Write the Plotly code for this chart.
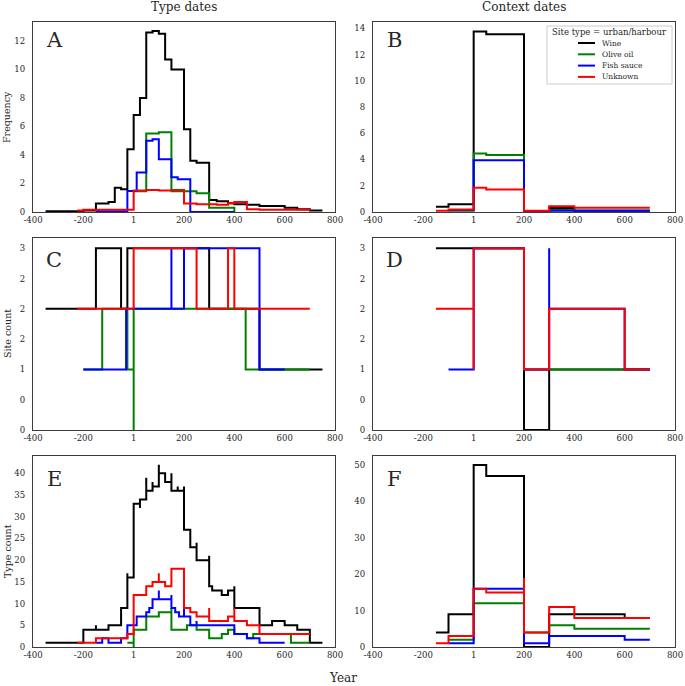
import plotly.graph_objects as go
from plotly.subplots import make_subplots

W, H = 685, 686

# ---------------- data (step functions: x breakpoints, values) ----------------
SERIES = ["Wine", "Olive oil", "Fish sauce", "Unknown"]
COLORS = ["black", "green", "blue", "red"]

# Panel A: Type dates, frequency
A_wine_x = [-350, -200, -150, -100, -75, -50, -25, 0, 25, 50, 75, 100, 125, 150, 200, 225, 250, 300, 330, 375, 400, 450, 500, 600, 650, 700, 750]
A_wine_y = [0.05, 0.1, 0.6, 0.7, 1.7, 1.6, 4.4, 6.8, 8.0, 12.6, 12.7, 12.5, 10.7, 10.0, 5.8, 3.6, 3.45, 0.85, 0.75, 0.62, 0.55, 0.5, 0.42, 0.3, 0.2, 0.1, 0.1]
A_olive_x = [0, 50, 100, 150, 250, 300, 400]
A_olive_y = [1.45, 5.5, 5.6, 1.45, 1.32, 0.3, 0.0]
A_fish_x = [-150, -25, 12, 50, 75, 100, 150, 175, 225, 400]
A_fish_y = [0.05, 1.47, 2.78, 5.0, 5.1, 3.7, 2.43, 2.3, 0.0, 0.0]
A_unk_x = [-225, -200, 0, 50, 100, 150, 200, 250, 330, 375, 400, 450, 500, 700]
A_unk_y = [0.1, 0.15, 1.5, 1.55, 1.5, 1.55, 0.6, 0.55, 0.5, 0.62, 0.7, 0.2, 0.15, 0.1]

# Panel B: Context dates, frequency
B_wine_x = [-150, -100, 0, 50, 200, 300, 400, 700]
B_wine_y = [0.4, 0.6, 13.75, 13.55, 0.0, 0.3, 0.1, 0.1]
B_olive_x = [-100, 0, 50, 200, 300, 400, 700]
B_olive_y = [0.1, 4.45, 4.35, 0.05, 0.15, 0.1, 0.1]
B_fish_x = [-100, 0, 200, 300, 700]
B_fish_y = [0.15, 3.95, 0.05, 0.1, 0.1]
B_unk_x = [-150, -100, 0, 50, 200, 300, 400, 700]
B_unk_y = [0.1, 0.2, 1.85, 1.72, 0.1, 0.43, 0.33, 0.33]

# Panel C: Type dates, site count
C_wine_x = [-350, -150, -50, -25, 300, 500, 750]
C_wine_y = [2, 3, 2, 3, 2, 1, 1]
C_olive_x = [-200, -125, -25, 0, 0, 445, 700]
C_olive_y = [1, 2, 1, 0, 2, 1, 1]
C_fish_x = [-200, -30, 150, 150, 200, 500, 600]
C_fish_y = [1, 2, 3, 2, 3, 1, 1]
C_unk_x = [-225, 0, 250, 375, 400, 700]
C_unk_y = [2, 3, 2, 3, 2, 2]

# Panel D: Context dates, site count
D_wine_x = [-150, 200, 300, 700]
D_wine_y = [3, 0, 1, 1]
D_olive_x = [0, 200, 700]
D_olive_y = [3, 1, 1]
D_fish_x = [-100, 0, 200, 300, 300, 600, 700]
D_fish_y = [1, 3, 1, 3, 2, 1, 1]
D_unk_x = [-150, 0, 0, 200, 300, 600, 700]
D_unk_y = [2, 1, 3, 1, 2, 1, 1]

# Panel E: Type dates, type count
E_wine_x = [-350, -200, -150, -150, -100, -50, -25, -25, 0, 25, 25, 50, 50, 75, 75, 100, 100, 125, 150, 150,
            175, 175, 200, 200, 225, 225, 250, 250, 300, 300, 312, 350, 375, 400, 400, 500, 550, 600, 650, 700, 750]
E_wine_y = [1, 4, 5, 4, 5, 9, 17, 16, 33, 32, 34, 39, 36, 38, 37, 42, 40, 38, 40, 36,
            37, 36, 37, 27, 24, 23, 24, 20, 21, 14, 13, 12, 13, 14, 9, 5, 6, 5, 4, 1, 1]
E_olive_x = [-25, 0, 0, 50, 100, 150, 150, 212, 250, 300, 350, 375, 400, 450, 475, 625, 700]
E_olive_y = [1, 0, 4, 7, 8, 9, 4, 5, 4, 2, 3, 4, 3, 2, 3, 1, 1]
E_fish_x = [-150, -125, -100, -50, -25, 12, 50, 62, 75, 100, 100, 150, 150, 165, 180, 200, 200, 225, 250, 250, 400, 450, 500, 600]
E_fish_y = [1, 2, 1, 2, 5, 7, 8, 9, 11, 13, 11, 12, 9, 8, 7, 9, 7, 5, 6, 5, 3, 2, 1, 1]
E_unk_x = [-225, -150, -25, 0, 50, 75, 100, 100, 125, 150, 200, 225, 250, 300, 300, 375, 400, 400, 450, 500, 700]
E_unk_y = [1, 2, 3, 12, 14, 15, 17, 15, 14, 18, 9, 8, 7, 9, 6, 7, 9, 6, 5, 3, 3]

# Panel F: Context dates, type count
F_wine_x = [-150, -100, 0, 50, 200, 300, 600, 700]
F_wine_y = [4, 9, 50, 47, 0, 9, 8, 8]
F_olive_x = [-100, 0, 200, 300, 400, 700]
F_olive_y = [2, 12, 4, 6, 5, 5]
F_fish_x = [-100, 0, 200, 200, 300, 600, 700]
F_fish_y = [1, 16, 4, 1, 3, 2, 2]
F_unk_x = [-150, -100, 0, 50, 200, 200, 300, 400, 700]
F_unk_y = [1, 3, 16, 15, 19, 4, 11, 8, 8]

X_TICKS = [-400, -200, 0, 200, 400, 600, 800]
X_TICKTEXT = ["-400", "-200", "1", "200", "400", "600", "800"]
SITE_TICKS = [0, 0.5, 1, 1.5, 2, 2.5, 3]
SITE_TICKTEXT = ["0", "0", "1", "2", "2", "2", "3"]

PANELS = {
    "A": (1, 1, [(A_wine_x, A_wine_y), (A_olive_x, A_olive_y), (A_fish_x, A_fish_y), (A_unk_x, A_unk_y)], [0, 13.33]),
    "B": (1, 2, [(B_wine_x, B_wine_y), (B_olive_x, B_olive_y), (B_fish_x, B_fish_y), (B_unk_x, B_unk_y)], [0, 14.48]),
    "C": (2, 1, [(C_wine_x, C_wine_y), (C_olive_x, C_olive_y), (C_fish_x, C_fish_y), (C_unk_x, C_unk_y)], [0, 3.17]),
    "D": (2, 2, [(D_wine_x, D_wine_y), (D_olive_x, D_olive_y), (D_fish_x, D_fish_y), (D_unk_x, D_unk_y)], [0, 3.17]),
    "E": (3, 1, [(E_wine_x, E_wine_y), (E_olive_x, E_olive_y), (E_fish_x, E_fish_y), (E_unk_x, E_unk_y)], [0, 44.0]),
    "F": (3, 2, [(F_wine_x, F_wine_y), (F_olive_x, F_olive_y), (F_fish_x, F_fish_y), (F_unk_x, F_unk_y)], [0, 52.5]),
}

# ---------------- layout geometry (pixels) ----------------
COL_PX = {1: (33, 335), 2: (373, 675)}
ROW_PX = {1: (22, 212), 2: (238, 430), 3: (456, 647)}
FONT = "DejaVu Serif"
TXT = "#262626"
EDGE = "#3c3c3c"


def px(x):
    return x / W


def py(y):
    return 1 - y / H


fig = make_subplots(rows=3, cols=2)

for letter, (r, c, series, yr) in PANELS.items():
    for (xs, ys), name, col in zip(series, SERIES, COLORS):
        fig.add_trace(go.Scatter(x=xs, y=ys, mode="lines", name=name, showlegend=False,
                                 line=dict(color=col, width=2, shape="hv")), row=r, col=c)
    x0, x1 = COL_PX[c]
    y0, y1 = ROW_PX[r]
    fig.update_xaxes(domain=[px(x0), px(x1)], range=[-400, 800], tickvals=X_TICKS, ticktext=X_TICKTEXT,
                     showline=True, mirror=True, linecolor=EDGE, linewidth=1.3, showgrid=False, zeroline=False,
                     ticks="", automargin=False, tickfont=dict(family=FONT, size=8.5, color=TXT), row=r, col=c)
    yk = dict(domain=[py(y1), py(y0)], range=yr, showline=True, mirror=True, linecolor=EDGE, linewidth=1.3,
              showgrid=False, zeroline=False, ticks="", ticklabelstandoff=5, automargin=False,
              tickfont=dict(family=FONT, size=8.5, color=TXT))
    if letter in ("C", "D"):
        yk.update(tickvals=SITE_TICKS, ticktext=SITE_TICKTEXT)
    elif letter == "E":
        yk.update(dtick=5, tick0=0)
    elif letter == "F":
        yk.update(dtick=10, tick0=0)
    else:
        yk.update(dtick=2, tick0=0)
    fig.update_yaxes(row=r, col=c, **yk)
    # panel letter
    lx = 54 if c == 1 else 394.5
    ly = {1: 40, 2: 260, 3: 479}[r]
    fig.add_annotation(text=letter, x=px(lx), y=py(ly), xref="paper", yref="paper", showarrow=False,
                       xanchor="center", yanchor="middle", font=dict(family=FONT, size=21, color=TXT))

# column titles / axis titles
texts = [
    ("Type dates", 184, 7, 12, 0),
    ("Context dates", 524, 7, 12, 0),
    ("Year", 343, 678, 12, 0),
    ("Frequency", 7, 117, 9.5, -90),
    ("Site count", 7, 334, 9.5, -90),
    ("Type count", 7, 551, 9.5, -90),
]
for t, x, y, s, ang in texts:
    fig.add_annotation(text=t, x=px(x), y=py(y), xref="paper", yref="paper", showarrow=False,
                       xanchor="center", yanchor="middle", textangle=ang,
                       font=dict(family=FONT, size=s, color=TXT))

# legend (drawn in panel B)
fig.add_shape(type="rect", xref="paper", yref="paper", x0=px(547), x1=px(672), y0=py(84), y1=py(26),
              line=dict(color="#cccccc", width=1), fillcolor="white", layer="above")
fig.add_annotation(text="Site type = urban/harbour", x=px(609.5), y=py(32), xref="paper", yref="paper",
                   showarrow=False, xanchor="center", yanchor="middle", font=dict(family=FONT, size=8.5, color=TXT))
for i, (name, col) in enumerate(zip(SERIES, COLORS)):
    yy = 43 + i * 11.3
    fig.add_shape(type="line", xref="paper", yref="paper", x0=px(578), x1=px(595), y0=py(yy), y1=py(yy),
                  line=dict(color=col, width=2), layer="above")
    fig.add_annotation(text=name, x=px(600), y=py(yy), xref="paper", yref="paper", showarrow=False,
                       xanchor="left", yanchor="middle", font=dict(family=FONT, size=7.5, color=TXT))

fig.update_layout(width=W, height=H, margin=dict(l=0, r=0, t=0, b=0), plot_bgcolor="white",
                  paper_bgcolor="white", showlegend=False)

fig.write_html("out.html")
